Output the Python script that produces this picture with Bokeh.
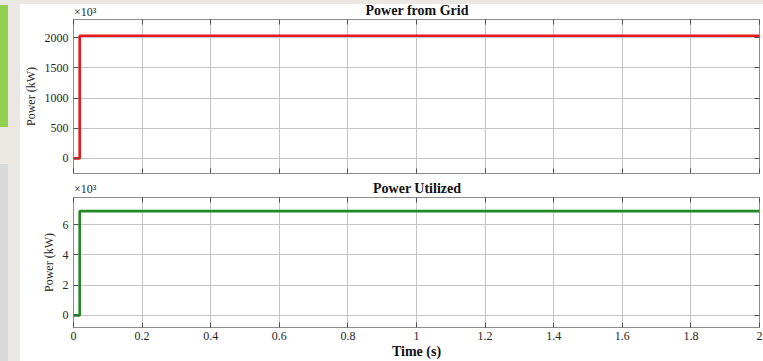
from bokeh.plotting import figure
from bokeh.models import Range1d, FixedTicker, LinearAxis, Div
from bokeh.layouts import column, row
from bokeh.embed import file_html
from bokeh.resources import INLINE

# ---- data ----
time_s = [0.0, 0.018, 0.018, 2.0]
grid_power = [0, 0, 2030, 2030]        # x10^3 kW
util_power = [0, 0, 6.9, 6.9]          # x10^3 kW

x_ticks = [0, 0.2, 0.4, 0.6, 0.8, 1.0, 1.2, 1.4, 1.6, 1.8, 2.0]
x_tick_labels = ["0", "0.2", "0.4", "0.6", "0.8", "1", "1.2", "1.4", "1.6", "1.8", "2"]
grid_ticks = [0, 500, 1000, 1500, 2000]
util_ticks = [0, 2, 4, 6]

titles = ["Power from Grid", "Power Utilized"]
y_label = "Power (kW)"
x_label = "Time (s)"
exp_label = "×10³"

FONT = "Liberation Serif, DejaVu Serif, serif"
CSSFONT = "'Liberation Serif', 'DejaVu Serif', serif"
TXT = "#262626"
GRIDC = "#c4c4c4"
FRAME = "#8c8c8c"
PAGE = "#ebe8e4"
W = 743


def style_axis(ax, hide_labels=False, ticks=None):
    ax.major_tick_in = 5
    ax.major_tick_out = 0
    ax.minor_tick_line_color = None
    ax.axis_line_color = None
    ax.major_tick_line_color = "#4d4d4d"
    ax.major_label_text_font = FONT
    ax.major_label_text_font_size = "12px"
    ax.major_label_text_color = TXT
    if hide_labels:
        ax.major_label_overrides = {t: "" for t in ticks}
        ax.major_label_text_font_size = "1px"
        ax.major_label_standoff = 0


def make_fig(height, yr, yticks, b_top, b_bottom, show_x):
    p = figure(width=W, height=height, output_backend="svg", toolbar_location=None,
               x_range=Range1d(0, 2), y_range=Range1d(*yr),
               min_border_left=53, min_border_right=4,
               min_border_top=b_top, min_border_bottom=b_bottom, margin=0)
    p.background_fill_color = "white"
    p.border_fill_color = "white"
    p.outline_line_color = FRAME
    p.outline_line_width = 1

    p.xaxis.ticker = FixedTicker(ticks=x_ticks)
    p.yaxis.ticker = FixedTicker(ticks=yticks)
    style_axis(p.xaxis[0], hide_labels=not show_x, ticks=x_ticks)
    style_axis(p.yaxis[0])
    if show_x:
        p.xaxis.major_label_overrides = {t: s for t, s in zip(x_ticks, x_tick_labels)}
        p.xaxis.major_label_standoff = 4
    p.yaxis.major_label_standoff = 5

    p.yaxis.axis_label = y_label
    p.yaxis.axis_label_text_font = FONT
    p.yaxis.axis_label_text_font_size = "12px"
    p.yaxis.axis_label_text_font_style = "normal"
    p.yaxis.axis_label_text_color = TXT
    p.yaxis.axis_label_standoff = 4
    if show_x:
        p.xaxis.axis_label = x_label
        p.xaxis.axis_label_text_font = FONT
        p.xaxis.axis_label_text_font_size = "14px"
        p.xaxis.axis_label_text_font_style = "bold"
        p.xaxis.axis_label_text_color = "#111111"
        p.xaxis.axis_label_standoff = 1

    right = LinearAxis(ticker=FixedTicker(ticks=yticks))
    style_axis(right, hide_labels=True, ticks=yticks)
    p.add_layout(right, "right")
    top = LinearAxis(ticker=FixedTicker(ticks=x_ticks))
    style_axis(top, hide_labels=True, ticks=x_ticks)
    p.add_layout(top, "above")

    p.xgrid.ticker = FixedTicker(ticks=x_ticks)
    p.ygrid.ticker = FixedTicker(ticks=yticks)
    p.grid.grid_line_color = GRIDC
    p.grid.grid_line_width = 1
    return p


def title_div(height, title, top_strip, t_top, e_top):
    strip = ""
    if top_strip:
        strip = (f'<div style="position:absolute;left:0;top:0;width:{W}px;height:{top_strip}px;'
                 f'background:{PAGE};"></div>')
    html = (f'<div style="position:relative;width:{W}px;height:{height}px;background:#fff;">'
            + strip +
            f'<div style="position:absolute;left:0;top:{t_top}px;width:794px;text-align:center;'
            f'font:bold 14px {CSSFONT};line-height:16px;color:#111;white-space:nowrap;">{title}</div>'
            f'<div style="position:absolute;left:54px;top:{e_top}px;font:12px {CSSFONT};'
            f'line-height:14px;color:{TXT};white-space:nowrap;">{exp_label}</div>'
            '</div>')
    return Div(text=html, width=W, height=height, margin=0)


# top: power from grid
d1 = title_div(17, titles[0], 4, 3, 5)
p1 = make_fig(165, (-250, 2300), grid_ticks, 2, 9, False)
p1.line(time_s, grid_power, line_color="#e8191e", line_width=2.6)

# bottom: power utilized
d2 = title_div(13, titles[1], 0, -1, 0)
p2 = make_fig(166, (-0.8, 7.8), util_ticks, 2, 30, True)
p2.line(time_s, util_power, line_color="#1f8a24", line_width=2.6)

left_html = ('<div style="position:relative;width:20px;height:361px;background:%s;">'
             '<div style="position:absolute;left:0;top:5px;width:8px;height:122px;background:#92d050;"></div>'
             '<div style="position:absolute;left:0;top:164px;width:8px;height:197px;background:#d9d9d9;"></div>'
             '</div>') % PAGE
left = Div(text=left_html, width=20, height=361, margin=0)

layout = row(left, column(d1, p1, d2, p2, spacing=0), spacing=0)
open("out.html", "w").write(file_html(layout, INLINE))
